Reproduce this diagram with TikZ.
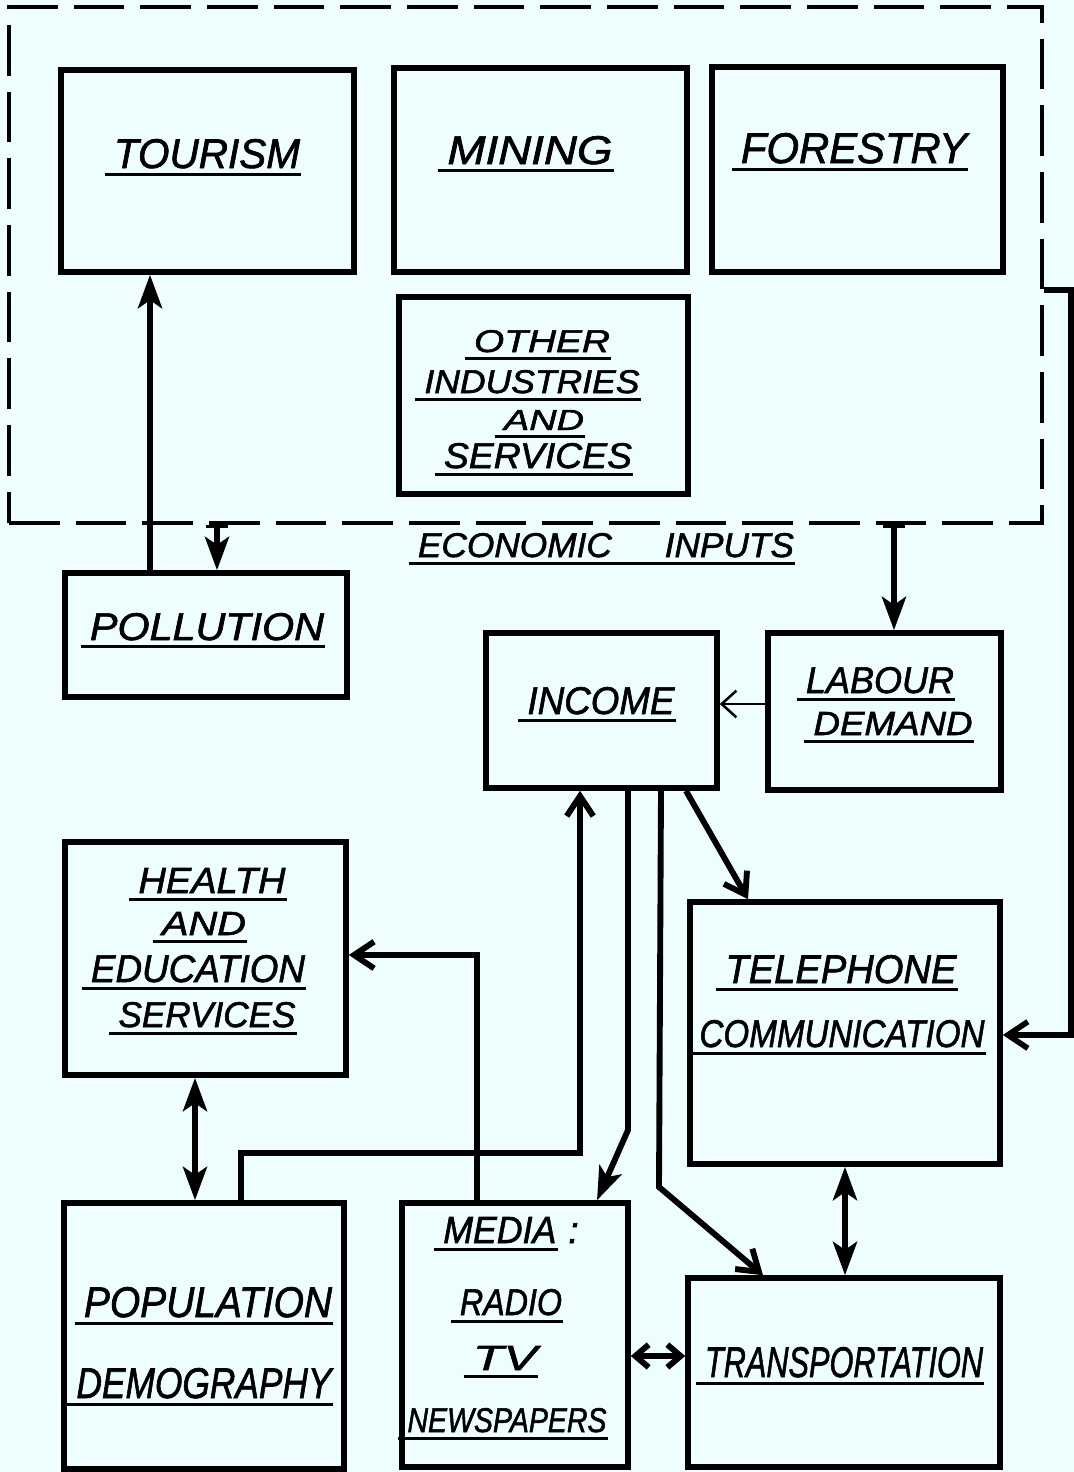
\documentclass[tikz,border=0pt]{standalone}
\usepackage{fontspec}
\usepackage{graphicx}
\usetikzlibrary{arrows.meta,fit}
\newfontfamily\hand{Liberation Sans}[FakeBold=1.6]
\definecolor{paper}{RGB}{238,253,254}
\definecolor{ink}{RGB}{0,0,0}
% underlined lettering: the rule starts a little to the left of the word
\newsavebox\ulbox
\newlength\labw
\newlength\labh
\newcommand\ulw[1]{\sbox\ulbox{#1}\kern-7pt\rlap{\rule[-6pt]{\dimexpr\wd\ulbox+8pt\relax}{2.6pt}}\kern7pt\usebox\ulbox}
% \lab{width px}{cap height px}{text}
\newcommand\lab[3]{\setlength\labw{\dimexpr #1pt*3/4\relax}\setlength\labh{\dimexpr #2pt*3/4\relax}\ulw{\resizebox{\labw}{\labh}{\hand\itshape #3}}}
\begin{document}
\begin{tikzpicture}[x=0.75pt,y=-0.75pt,
  box/.style={draw=ink, line width=4.2pt, inner sep=0pt},
  frame/.style={draw=ink, line width=2.8pt, dash pattern=on 38pt off 12pt, inner sep=0pt},
  lbl/.style={inner sep=0pt, anchor=base, text=ink},
  conn/.style={draw=ink, line width=4.4pt},
  side/.style={draw=ink, line width=4.2pt},
  thin/.style={draw=ink, line width=1.9pt},
  headF/.tip={Stealth[length=25pt,width=18pt,inset=6pt]},
  headB/.tip={Straight Barb[length=15pt,width=20pt]},
  headS/.tip={Straight Barb[length=10pt,width=17pt]},
  tick/.tip={Bar[width=16pt,line width=2.6pt]}]
\fill[paper] (0,0) rectangle (1074,1472);
\useasboundingbox (0,0) rectangle (1074,1472);

% economic inputs group
\node[frame, fit={(9,7) (1042,523)}] (frame) {};
\node[box, fit={(61,70) (354,272)}] (tourism) {};
\node[box, fit={(394,68) (687,272)}] (mining) {};
\node[box, fit={(712,67) (1003,272)}] (forestry) {};
\node[box, fit={(399,297) (688,494)}] (other) {};

% remaining sectors
\node[box, fit={(65,573) (347,697)}] (pollution) {};
\node[box, fit={(486,633) (717,788)}] (income) {};
\node[box, fit={(768,633) (1001,790)}] (labour) {};
\node[box, fit={(65,842) (346,1075)}] (health) {};
\node[box, fit={(690,902) (1000,1164)}] (telephone) {};
\node[box, fit={(64,1203) (344,1469)}] (population) {};
\node[box, fit={(402,1203) (628,1467)}] (media) {};
\node[box, fit={(688,1278) (1000,1467)}] (transport) {};

% lettering
\node[lbl] (tourismT) at (207,168) {\lab{186}{29}{TOURISM}};
\node[lbl] (miningT) at (530,164) {\lab{165}{28}{MINING}};
\node[lbl] (forestryT) at (854,163) {\lab{226}{30}{FORESTRY}};
\node[lbl] (otherT1) at (542,352) {\lab{136}{22}{OTHER}};
\node[lbl] (otherT2) at (532,393) {\lab{215}{23}{INDUSTRIES}};
\node[lbl] (otherT3) at (544,430) {\lab{80}{20}{AND}};
\node[lbl] (otherT4) at (538,468) {\lab{188}{25}{SERVICES}};
\node[lbl] (frameT) at (606,557) {\lab{376}{24}{ECONOMIC\hspace{1.5em}INPUTS}};
\node[lbl] (pollutionT) at (207,640) {\lab{234}{27}{POLLUTION}};
\node[lbl] (incomeT) at (601,714) {\lab{147}{27}{INCOME}};
\node[lbl] (labourT1) at (880,693) {\lab{148}{26}{LABOUR}};
\node[lbl] (labourT2) at (893,735) {\lab{159}{23}{DEMAND}};
\node[lbl] (healthT1) at (212,893) {\lab{147}{25}{HEALTH}};
\node[lbl] (healthT2) at (204,935) {\lab{84}{23}{AND}};
\node[lbl] (healthT3) at (198,982) {\lab{214}{27}{EDUCATION}};
\node[lbl] (healthT4) at (207,1027) {\lab{177}{25}{SERVICES}};
\node[lbl] (telephoneT1) at (841,983) {\lab{231}{28}{TELEPHONE}};
\node[lbl] (telephoneT2) at (842,1047) {\lab{285}{27}{COMMUNICATION}};
\node[lbl] (populationT1) at (208,1317) {\lab{248}{30}{POPULATION}};
\node[lbl] (populationT2) at (204,1398) {\lab{255}{30}{DEMOGRAPHY}};
\node[lbl] (mediaT1) at (511,1243) {\lab{113}{26}{MEDIA}\hspace{9pt}{\hand\itshape\fontsize{28}{30}\selectfont :}};
\node[lbl] (mediaT2) at (511,1315) {\lab{102}{26}{RADIO}};
\node[lbl] (mediaT3) at (505,1370) {\lab{64}{24}{TV}};
\node[lbl] (mediaT4) at (507,1432) {\lab{199}{24}{NEWSPAPERS}};
\node[lbl] (transportT) at (844,1377) {\lab{278}{30}{TRANSPORTATION}};

% connectors
\draw[conn,-{headF}] (pollution.north -| 150,0) -- (tourism.south -| 150,0);
\draw[conn,{tick}-{headF}] (frame.south -| 217,0) -- (pollution.north -| 217,0);
\draw[conn,{tick}-{headF}] (frame.south -| 894,0) -- (labour.north -| 894,0);
\draw[thin,-{Straight Barb[length=11pt,width=20pt]}] (labour.west |- 0,704) -- (income.east |- 0,704);
\draw[side,-{headB}] (frame.east |- 0,290) -- ++(27,0) |- (telephone.east |- 0,1035);
\draw[conn,-{headB}] (income.south -| 686,0) -- (telephone.north -| 748,0);
\draw[conn,-{headB}] (population.north -| 241,0) |- (580,1153) -- (income.south -| 580,0);
\draw[conn,-{headB}] (media.north -| 477,0) |- (health.east |- 0,955);
\draw[conn,-{headF}] (income.south -| 628,0) -- (628,1130) -- (media.north -| 597,0);
\draw[conn,-{headB}] (income.south -| 661,0) -- (659,1187) -- (transport.north -| 763,0);
\draw[conn,{headF}-{headF}] (health.south -| 195,0) -- (population.north -| 195,0);
\draw[conn,{headF}-{headF}] (telephone.south -| 845,0) -- (transport.north -| 845,0);
\draw[conn,{headS}-{headS}] (media.east |- 0,1356) -- (transport.west |- 0,1356);
\end{tikzpicture}
\end{document}
